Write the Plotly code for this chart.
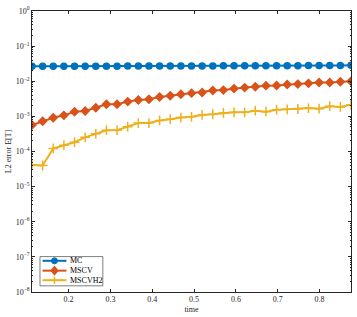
import numpy as np
import plotly.graph_objects as go

time = np.linspace(0.1125, 0.875, 31)

mc = [0.0268, 0.0268, 0.0268, 0.0268, 0.0268, 0.0269, 0.0269, 0.0269, 0.0269, 0.0270,
      0.0270, 0.0270, 0.0271, 0.0271, 0.0272, 0.0272, 0.0273, 0.0273, 0.0274, 0.0274,
      0.0275, 0.0275, 0.0276, 0.0277, 0.0277, 0.0278, 0.0279, 0.0280, 0.0281, 0.0282, 0.0284]

mscv = [5.7e-4, 7.3e-4, 9.1e-4, 1.07e-3, 1.36e-3, 1.42e-3, 1.76e-3, 2.22e-3, 2.22e-3, 2.63e-3,
        2.93e-3, 3.06e-3, 3.55e-3, 3.86e-3, 4.25e-3, 4.58e-3, 4.79e-3, 5.43e-3, 5.6e-3, 6.18e-3,
        6.6e-3, 7.0e-3, 7.5e-3, 7.6e-3, 8.1e-3, 8.3e-3, 8.7e-3, 9.2e-3, 9.2e-3, 9.7e-3, 1.0e-2]

mscvh2 = [4.13e-5, 4.0e-5, 1.22e-4, 1.51e-4, 1.84e-4, 2.53e-4, 3.19e-4, 4.04e-4, 4.04e-4, 5.1e-4,
          6.45e-4, 6.45e-4, 7.65e-4, 8.3e-4, 9.25e-4, 9.7e-4, 1.1e-3, 1.15e-3, 1.25e-3, 1.3e-3,
          1.3e-3, 1.45e-3, 1.36e-3, 1.55e-3, 1.59e-3, 1.62e-3, 1.72e-3, 1.66e-3, 1.95e-3, 1.86e-3, 2.13e-3]

series_names = ["MC", "MSCV", "MSCVH2"]
colors = ["#0072BD", "#D95319", "#EDB120"]
symbols = ["circle", "diamond", "cross-thin"]

y_tick_exps = [0, -1, -2, -3, -4, -5, -6, -7, -8]
x_tick_vals = [0.2, 0.3, 0.4, 0.5, 0.6, 0.7, 0.8]

fig = go.Figure()
for name, vals, c, s in zip(series_names, [mc, mscv, mscvh2], colors, symbols):
    fig.add_trace(go.Scatter(
        x=time, y=vals, name=name, mode="lines+markers", showlegend=False,
        line=dict(color=c, width=2),
        marker=dict(symbol=s, size=6 if s != "cross-thin" else 7, color=c,
                    line=dict(color=c, width=1.5)),
    ))

serif = "Liberation Serif, DejaVu Serif, serif"
font = dict(family=serif, size=8, color="#262626")

minor_vals = [m * 10.0 ** e for e in range(-8, 0) for m in range(2, 10)]

# ---- manual compact legend (paper coordinates = plot area) ----
shapes = [dict(type="rect", xref="paper", yref="paper", x0=0.025, x1=0.222, y0=0.022, y1=0.126,
               line=dict(color="#262626", width=0.6), fillcolor="white", layer="above")]
annotations = []
legend_y = [0.111, 0.076, 0.042]
lx0, lx1, lxm = 0.033, 0.108, 0.0705
marker_paths = {
    "diamond": "M0,-4 L3.2,0 L0,4 L-3.2,0 Z",
    "cross-thin": "M-3.5,0 L3.5,0 M0,-3.5 L0,3.5",
}
for name, c, s, yy in zip(series_names, colors, symbols, legend_y):
    shapes.append(dict(type="line", xref="paper", yref="paper", x0=lx0, x1=lx1, y0=yy, y1=yy,
                       line=dict(color=c, width=2), layer="above"))
    if s == "circle":
        shapes.append(dict(type="circle", xref="paper", yref="paper", xsizemode="pixel",
                           ysizemode="pixel", xanchor=lxm, yanchor=yy, x0=-3, x1=3, y0=-3, y1=3,
                           fillcolor=c, line=dict(color=c, width=1), layer="above"))
    else:
        shapes.append(dict(type="path", xref="paper", yref="paper", xsizemode="pixel",
                           ysizemode="pixel", xanchor=lxm, yanchor=yy, path=marker_paths[s],
                           fillcolor=c if s == "diamond" else None,
                           line=dict(color=c, width=1.5), layer="above"))
    annotations.append(dict(text=name, xref="paper", yref="paper", x=0.114, y=yy,
                            xanchor="left", yanchor="middle", showarrow=False,
                            font=dict(family=serif, size=8, color="#000000")))

fig.update_layout(
    width=357, height=317,
    margin=dict(l=32, r=5, t=5, b=24),
    paper_bgcolor="white", plot_bgcolor="white",
    font=font,
    showlegend=False,
    shapes=shapes, annotations=annotations,
    xaxis=dict(
        range=[0.1125, 0.875], tickvals=x_tick_vals,
        ticktext=[f"{v:.1f}" for v in x_tick_vals],
        ticks="inside", ticklen=3, tickcolor="#262626",
        showline=True, linecolor="#262626", linewidth=0.6, mirror="ticks",
        showgrid=False, zeroline=False,
        title=dict(text="time", standoff=2, font=dict(size=8, color="#262626")),
    ),
    yaxis=dict(
        type="log", range=[-8, 0],
        tickvals=[10.0 ** e for e in y_tick_exps],
        ticktext=[f"10<sup>{e}</sup>" if e == 0 else f"10<sup>\u2212{-e}</sup>" for e in y_tick_exps],
        ticks="inside", ticklen=3, tickcolor="#262626",
        minor=dict(tickvals=minor_vals, ticks="inside", ticklen=1.5, tickcolor="#262626"),
        showline=True, linecolor="#262626", linewidth=0.6, mirror="ticks",
        showgrid=False, zeroline=False,
        title=dict(text="L2 error E[T]", standoff=2, font=dict(size=8, color="#262626")),
    ),
)

fig.write_html("out.html", config={"displayModeBar": False},
               post_script="document.body.style.margin='0px';document.body.style.overflow='hidden';")
